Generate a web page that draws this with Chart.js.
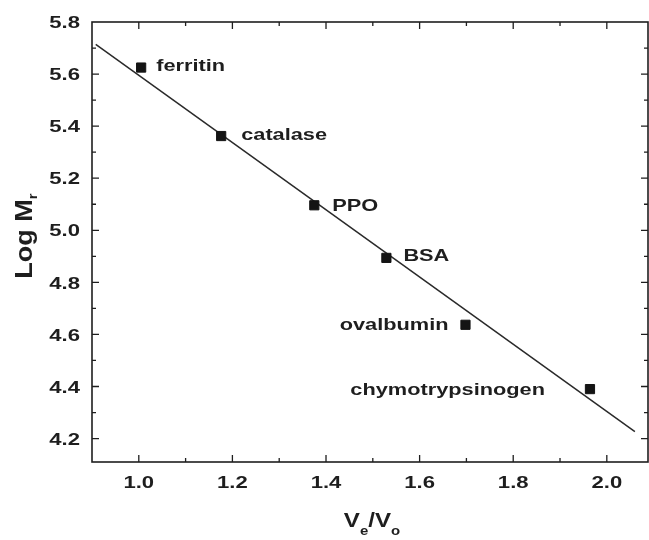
<!DOCTYPE html>
<html><head><meta charset="utf-8">
<script src="https://cdn.jsdelivr.net/npm/chart.js@4/dist/chart.umd.min.js"></script>
<style>html,body{margin:0;padding:0;background:#fff}#wrap{width:649px;height:540px}</style>
</head><body><div id="wrap"><canvas id="c" width="649" height="540"></canvas></div>
<script>
// Calibration standards: elution ratio Ve/V0 against log of molecular mass
const proteins = ['ferritin', 'catalase', 'PPO', 'BSA', 'ovalbumin', 'chymotrypsinogen'];
const elutionRatio = [1.005, 1.176, 1.375, 1.529, 1.698, 1.964];
const logMr = [5.625, 5.362, 5.096, 4.894, 4.637, 4.390];

// Linear fit drawn across the plotted range
const fitX = [0.908, 2.060];
const fitY = [5.714, 4.227];

const xTicks = [1.0, 1.2, 1.4, 1.6, 1.8, 2.0];
const yTicks = [4.2, 4.4, 4.6, 4.8, 5.0, 5.2, 5.4, 5.6, 5.8];

// label placement relative to each marker (px); negative dx = label on the left
const labelDx = [15, 20, 18, 17, -17, -45];
const labelDy = [3.5, 3.5, 5.5, 3.5, 5, 5.5];

const INK = '#1e1e1e';
const FONT = '"Liberation Sans", Arial, sans-serif';

// draw text squeezed/stretched horizontally by sx
function drawText(ctx, text, x, y, align, sx) {
  const w = ctx.measureText(text).width * sx;
  const x0 = align === 'left' ? x : (align === 'right' ? x - w : x - w / 2);
  ctx.save();
  ctx.translate(x0, y);
  ctx.scale(sx, 1);
  ctx.textAlign = 'left';
  ctx.fillText(text, 0, 0);
  ctx.restore();
  return w;
}

const framePlugin = {
  id: 'frame',
  afterDatasetsDraw(chart) {
    const ctx = chart.ctx, a = chart.chartArea;
    const xs = chart.scales.x, ys = chart.scales.y;
    ctx.save();
    ctx.strokeStyle = INK;
    ctx.lineWidth = 1.6;
    ctx.strokeRect(a.left, a.top, a.right - a.left, a.bottom - a.top);
    ctx.lineWidth = 1.3;
    ctx.beginPath();
    for (let i = 9; i <= 20; i++) {
      const px = xs.getPixelForValue(i / 10);
      if (px < a.left + 1 || px > a.right - 1) continue;
      const len = (i % 2 === 0) ? 7 : 4;
      ctx.moveTo(px, a.bottom); ctx.lineTo(px, a.bottom - len);
      ctx.moveTo(px, a.top); ctx.lineTo(px, a.top + len);
    }
    for (let i = 41; i <= 58; i++) {
      const py = ys.getPixelForValue(i / 10);
      if (py < a.top + 1 || py > a.bottom - 1) continue;
      const len = (i % 2 === 0) ? 7 : 4;
      ctx.moveTo(a.left, py); ctx.lineTo(a.left + len, py);
      ctx.moveTo(a.right, py); ctx.lineTo(a.right - len, py);
    }
    ctx.stroke();

    ctx.fillStyle = INK;

    // tick labels
    ctx.font = 'bold 17px ' + FONT;
    ctx.textBaseline = 'middle';
    xTicks.forEach(v => {
      drawText(ctx, v.toFixed(1), xs.getPixelForValue(v), a.bottom + 21, 'center', 1.3);
    });
    yTicks.forEach(v => {
      drawText(ctx, v.toFixed(1), a.left - 12, ys.getPixelForValue(v) + 1.5, 'right', 1.3);
    });

    // point labels
    ctx.textBaseline = 'alphabetic';
    proteins.forEach((name, i) => {
      const px = xs.getPixelForValue(elutionRatio[i]);
      const py = ys.getPixelForValue(logMr[i]);
      drawText(ctx, name, px + labelDx[i], py + labelDy[i], labelDx[i] >= 0 ? 'left' : 'right', 1.28);
    });

    // x title: Ve/V0
    const big = 'bold 21px ' + FONT, sub = 'bold 13px ' + FONT;
    const parts = [['V', false], ['e', true], ['/V', false], ['o', true]];
    const sx = 1.15;
    let w = 0;
    parts.forEach(([t, s]) => { ctx.font = s ? sub : big; w += ctx.measureText(t).width * sx; });
    let x = (a.left + a.right) / 2 + 2 - w / 2;
    const by = 527;
    parts.forEach(([t, s]) => {
      ctx.font = s ? sub : big;
      x += drawText(ctx, t, x, s ? by + 8 : by, 'left', sx);
    });

    // y title: Log Mr
    ctx.save();
    ctx.translate(32, (a.top + a.bottom) / 2);
    ctx.rotate(-Math.PI / 2);
    ctx.scale(1, 0.9);
    const ybig = 'bold 27px ' + FONT, ysub = 'bold 15px ' + FONT;
    const yparts = [['Log M', false], ['r', true]];
    w = 0;
    yparts.forEach(([t, s]) => { ctx.font = s ? ysub : ybig; w += ctx.measureText(t).width; });
    x = -w / 2 + 6;
    yparts.forEach(([t, s]) => {
      ctx.font = s ? ysub : ybig;
      ctx.textAlign = 'left';
      ctx.fillText(t, x, s ? 6 : 0);
      x += ctx.measureText(t).width;
    });
    ctx.restore();
    ctx.restore();
  }
};

new Chart(document.getElementById('c'), {
  type: 'scatter',
  data: {
    datasets: [
      {
        label: 'fit',
        data: fitX.map((v, i) => ({ x: v, y: fitY[i] })),
        showLine: true,
        borderColor: '#2a2a2a',
        borderWidth: 1.5,
        pointRadius: 0,
        order: 2
      },
      {
        label: 'standards',
        data: elutionRatio.map((v, i) => ({ x: v, y: logMr[i] })),
        pointStyle: 'rect',
        pointRadius: 6.5,
        backgroundColor: '#141414',
        borderColor: '#141414',
        borderWidth: 1,
        order: 1
      }
    ]
  },
  options: {
    responsive: false,
    devicePixelRatio: 1,
    animation: false,
    layout: { autoPadding: false, padding: { top: 22, right: 1, left: 0, bottom: 0 } },
    plugins: { legend: { display: false }, tooltip: { enabled: false } },
    scales: {
      x: {
        type: 'linear', min: 0.9, max: 2.088,
        afterBuildTicks: s => { s.ticks = xTicks.map(v => ({ value: v })); },
        afterFit: s => { s.height = 78; s.paddingLeft = 0; s.paddingRight = 0; },
        grid: { display: false },
        border: { display: false },
        ticks: { display: false }
      },
      y: {
        type: 'linear', min: 4.11, max: 5.8,
        afterBuildTicks: s => { s.ticks = yTicks.map(v => ({ value: v })); },
        afterFit: s => { s.width = 92; s.paddingTop = 0; s.paddingBottom = 0; },
        grid: { display: false },
        border: { display: false },
        ticks: { display: false }
      }
    }
  },
  plugins: [framePlugin]
});
</script>
</body></html>
